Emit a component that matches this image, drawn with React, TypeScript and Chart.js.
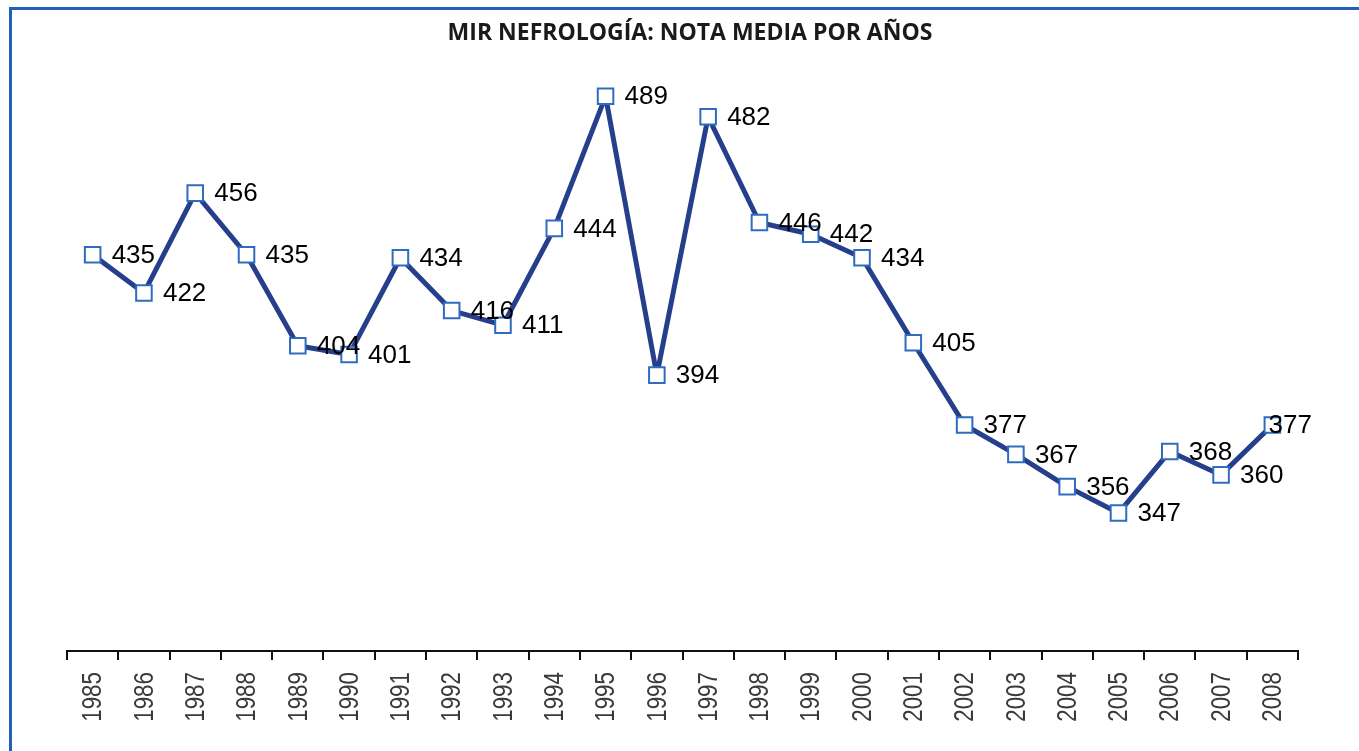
import React, { useEffect, useRef } from "react";
import { Chart, registerables } from "chart.js";

Chart.register(...registerables);

const TITLE = "MIR NEFROLOGÍA: NOTA MEDIA POR AÑOS";
const years = [
  "1985", "1986", "1987", "1988", "1989", "1990", "1991", "1992", "1993", "1994", "1995", "1996",
  "1997", "1998", "1999", "2000", "2001", "2002", "2003", "2004", "2005", "2006", "2007", "2008",
];
const notaMedia = [
  435, 422, 456, 435, 404, 401, 434, 416, 411, 444, 489, 394,
  482, 446, 442, 434, 405, 377, 367, 356, 347, 368, 360, 377,
];
const yMin = 300;
const yMax = 500;

const labelPlugin = {
  id: "pointLabels",
  afterDatasetsDraw(chart: any) {
    const ctx = chart.ctx;
    const meta = chart.getDatasetMeta(0);
    const area = chart.chartArea;
    ctx.save();
    ctx.font = "26px 'Liberation Sans', Arial, sans-serif";
    ctx.fillStyle = "#000";
    ctx.textBaseline = "middle";
    ctx.textAlign = "left";
    meta.data.forEach((pt: any, i: number) => {
      const txt = String(notaMedia[i]);
      const w = ctx.measureText(txt).width;
      let x = pt.x + 19;
      const maxRight = area.right + 14;
      if (x + w > maxRight) x = maxRight - w;
      ctx.fillText(txt, x, pt.y + 1);
    });
    ctx.restore();
  },
};

// Condensed, rotated category labels drawn at the x scale's own tick positions
const tickLabelPlugin = {
  id: "condensedTicks",
  afterDraw(chart: any) {
    const ctx = chart.ctx;
    const xs = chart.scales.x;
    ctx.save();
    ctx.font = "28px 'Liberation Sans', Arial, sans-serif";
    ctx.fillStyle = "#3a3a3a";
    ctx.textAlign = "right";
    ctx.textBaseline = "middle";
    years.forEach((label, i) => {
      const x = xs.getPixelForTick(i);
      const y = xs.top + 21;
      ctx.save();
      ctx.translate(x, y);
      ctx.rotate(-Math.PI / 2);
      ctx.scale(0.8, 1);
      ctx.fillText(label, 0, 1);
      ctx.restore();
    });
    ctx.restore();
  },
};

const titlePlugin = {
  id: "centeredTitle",
  afterDraw(chart: any) {
    const ctx = chart.ctx;
    ctx.save();
    ctx.font = "bold 23px 'Open Sans', 'Liberation Sans', sans-serif";
    ctx.fillStyle = "#1a1a1a";
    ctx.textAlign = "center";
    ctx.textBaseline = "middle";
    ctx.fillText(TITLE, 690, 33);
    ctx.restore();
  },
};

export default function App() {
  const ref = useRef<HTMLCanvasElement>(null);
  useEffect(() => {
    if (!ref.current) return;
    const chart = new Chart(ref.current, {
      type: "line",
      data: {
        labels: years,
        datasets: [
          {
            data: notaMedia,
            borderColor: "#263f8c",
            borderWidth: 5,
            borderJoinStyle: "round",
            tension: 0,
            pointStyle: "rect",
            pointRadius: 11,
            pointBorderWidth: 2,
            pointBorderColor: "#2f6cc0",
            pointBackgroundColor: "#ffffff",
          },
        ],
      },
      options: {
        animation: false,
        responsive: false,
        layout: { padding: { left: 67, right: 61, top: 64, bottom: 0 } },
        plugins: {
          legend: { display: false },
          tooltip: { enabled: false },
          title: { display: false },
        },
        scales: {
          x: {
            offset: true,
            grid: {
              offset: true,
              drawOnChartArea: false,
              drawTicks: true,
              tickLength: 9,
              color: "#111",
              lineWidth: 2,
            },
            border: { display: true, color: "#111", width: 2 },
            ticks: {
              display: false,
              autoSkip: false,
            },
            afterFit(scale: any) {
              scale.height = 100;
            },
          },
          y: {
            display: false,
            min: yMin,
            max: yMax,
          },
        },
      },
      plugins: [labelPlugin, tickLabelPlugin, titlePlugin],
    });
    return () => chart.destroy();
  }, []);

  return (
    <div style={{ position: "fixed", left: 0, top: 0, width: 1359, height: 751, background: "#fff" }}>
      <div
        style={{
          position: "absolute",
          left: 9,
          top: 7,
          right: 0,
          bottom: 0,
          borderTop: "3px solid #2160b8",
          borderLeft: "3px solid #2160b8",
        }}
      />
      <canvas ref={ref} width={1359} height={751} style={{ position: "absolute", left: 0, top: 0 }} />
    </div>
  );
}
